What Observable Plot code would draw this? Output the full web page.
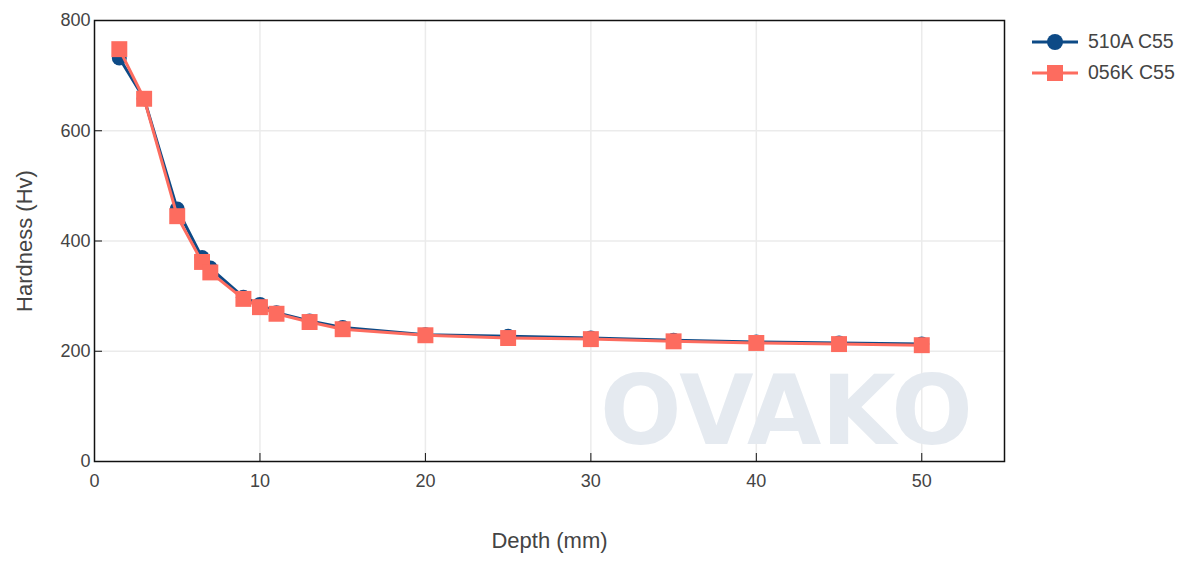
<!DOCTYPE html>
<html>
<head>
<meta charset="utf-8">
<script src="https://cdn.jsdelivr.net/npm/d3@7"></script>
<script src="https://cdn.jsdelivr.net/npm/@observablehq/plot@0.6"></script>
<style>
  body { margin: 0; background: #fff; font-family: "Liberation Sans", Arial, sans-serif; }
  #wrap { position: relative; width: 1193px; height: 561px; }
  #legend { position: absolute; left: 1030px; top: 26px; font-size: 19.5px; color: #444; }
  .item { display: flex; align-items: center; height: 31px; }
  .item svg { margin-right: 8px; }
</style>
</head>
<body>
<div id="wrap"><div id="legend"></div></div>
<script>
const depth = [1.5, 3, 5, 6.5, 7, 9, 10, 11, 13, 15, 20, 25, 30, 35, 40, 45, 50];
const hard510A = [732, 658, 458, 370, 351, 298, 285, 270, 255, 243, 230, 227, 224, 220, 217, 215, 213];
const hard056K = [748, 658, 445, 362, 343, 295, 280, 268, 253, 240, 229, 224, 222, 218, 215, 213, 211];
const seriesNames = ["510A C55", "056K C55"];
const colors = ["#0d4a86", "#fd6c5f"];
const xTicks = [0, 10, 20, 30, 40, 50];
const yTicks = [0, 200, 400, 600, 800];

const d510 = depth.map((d, i) => ({depth: d, hardness: hard510A[i]}));
const d056 = depth.map((d, i) => ({depth: d, hardness: hard056K[i]}));

const chart = Plot.plot({
  width: 1193,
  height: 561,
  marginLeft: 94,
  marginRight: 189,
  marginTop: 20,
  marginBottom: 100,
  style: {fontFamily: '"Liberation Sans", Arial, sans-serif', fontSize: "18px", color: "#444", background: "#fff"},
  x: {domain: [0, 55]},
  y: {domain: [0, 800]},
  marks: [
    Plot.gridX(xTicks.filter(t => t > 0), {stroke: "#ebebeb", strokeOpacity: 1, strokeWidth: 1.5}),
    Plot.gridY(yTicks.filter(t => t > 0 && t < 800), {stroke: "#ebebeb", strokeOpacity: 1, strokeWidth: 1.5}),
    Plot.text(["OVAKO"], {frameAnchor: "right", dx: -218, dy: 172, text: d => d, fontSize: 96, fontWeight: "bold", fill: "#e5eaf0", textAnchor: "middle", fontFamily: '"DejaVu Sans", sans-serif'}),
    Plot.frame({stroke: "#111", strokeWidth: 1.5}),
    Plot.axisX({ticks: xTicks, tickSize: -8, tickPadding: 21, label: "Depth (mm)", labelAnchor: "center", labelArrow: "none", labelOffset: 86, fontSize: 18, fill: "#444", stroke: "#111"}),
    Plot.axisY({ticks: yTicks, tickSize: -8, tickPadding: 12, label: "Hardness (Hv)", labelAnchor: "center", labelArrow: "none", labelOffset: 78, fontSize: 18, fill: "#444", stroke: "#111"}),
    Plot.line(d510, {x: "depth", y: "hardness", stroke: colors[0], strokeWidth: 3}),
    Plot.dot(d510, {x: "depth", y: "hardness", r: 7.5, fill: colors[0], symbol: "circle"}),
    Plot.line(d056, {x: "depth", y: "hardness", stroke: colors[1], strokeWidth: 3}),
    Plot.dot(d056, {x: "depth", y: "hardness", r: 9, fill: colors[1], symbol: "square"})
  ]
});
chart.querySelectorAll('[aria-label="x-axis label"] text, [aria-label="y-axis label"] text').forEach(t => {
  t.setAttribute("font-size", "22");
  t.style.fontSize = "22px";
});
document.getElementById("wrap").prepend(chart);

const legend = document.getElementById("legend");
seriesNames.forEach((name, i) => {
  const item = document.createElement("div");
  item.className = "item";
  const marker = i === 0
    ? `<circle cx="25" cy="12" r="8" fill="${colors[i]}"/>`
    : `<rect x="17" y="4" width="16" height="16" fill="${colors[i]}"/>`;
  item.innerHTML = `<svg width="50" height="24"><line x1="2" x2="48" y1="12" y2="12" stroke="${colors[i]}" stroke-width="3"/>${marker}</svg><span>${name}</span>`;
  legend.appendChild(item);
});
</script>
</body>
</html>
